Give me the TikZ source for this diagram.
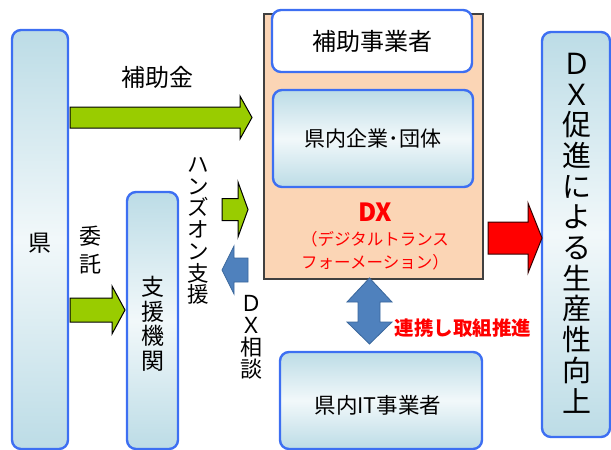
\documentclass[tikz,border=0pt]{standalone}
\usepackage{fontspec}
\setmainfont{Noto Sans CJK JP}
\usetikzlibrary{positioning}

\definecolor{boxblue}{HTML}{3D6FF2}
\definecolor{paleblue}{HTML}{BCDCE6}
\definecolor{peach}{HTML}{FBD5B5}
\definecolor{leaf}{HTML}{99CC00}
\definecolor{steel}{HTML}{4F81BD}
\definecolor{steeldark}{HTML}{3A679C}

\tikzset{
  panel/.style={draw=boxblue, line width=2.4pt, rounded corners=9pt, inner sep=0pt},
  glass/.style={panel, top color=paleblue, bottom color=paleblue, middle color=paleblue!20},
  vtext/.style={align=center, inner sep=0pt, font=\fontsize{22}{22}\selectfont},
  greenarrow/.style={fill=leaf, draw=black, line width=1pt},
  bluearrow/.style={fill=steel, draw=steeldark, line width=0.8pt},
  redarrow/.style={fill=red, draw=black!80!red, line width=1pt}
}

% block arrow: style, tail x, tip x, y, half shaft, half head, head length
\newcommand{\barrow}[7]{\draw[#1] (#2,{#4-#5}) -- ({#3-#7},{#4-#5}) -- ({#3-#7},{#4-#6}) -- (#3,#4) -- ({#3-#7},{#4+#6}) -- ({#3-#7},{#4+#5}) -- (#2,{#4+#5}) -- cycle;}

\begin{document}
\begin{tikzpicture}[x=1pt, y=-1pt]
\useasboundingbox (0,0) rectangle (611,450);
\node [glass, minimum width=56pt, minimum height=419pt] (ken) at (40,239.5) {};
\node [vtext, font=\fontsize{23}{23}\selectfont] (kentext) at (40,243) {県};
\node [glass, minimum width=51pt, minimum height=257pt] (shien) at (152.5,320.5) {};
\node [vtext, font=\fontsize{23}{24.5}\selectfont] (shientext) at (153,324) {支\\援\\機\\関};
\node [fill=peach, draw=black!75, line width=1.2pt, minimum width=219pt, minimum height=265pt, inner sep=0pt] (dxbox) at (373.5,146.5) {};
\node [panel, fill=white, minimum width=200pt, minimum height=62pt] (hojo) at (372,41) {};
\node [font=\fontsize{24}{24}\selectfont] (hojotext) at (hojo) {補助事業者};
\node [glass, minimum width=200pt, minimum height=97pt] (kigyo) at (373,138.5) {};
\node [font=\fontsize{21}{21}\selectfont] (kigyotext) at (kigyo) {県内企業･団体};
\node [text=red, font=\fontsize{25}{25}\selectfont\bfseries] (dxtext) at (375,212) {DX};
\node [text=red, font=\fontsize{16.5}{23}\selectfont, align=center, inner sep=0pt] (dxsub) at (375,251) {（デジタルトランス\\フォーメーション）};
\node [glass, minimum width=202pt, minimum height=97pt] (itjigyo) at (381,400.5) {};
\node [font=\fontsize{21.5}{21.5}\selectfont] (ittext) at (378,405) {県内IT事業者};
\node [glass, minimum width=68pt, minimum height=405pt] (kojo) at (576,234.5) {};
\node [vtext, font=\fontsize{29}{30.7}\selectfont] (kojotext) at (577,233) {Ｄ\\Ｘ\\促\\進\\に\\よ\\る\\生\\産\\性\\向\\上};
\node [font=\fontsize{24}{24}\selectfont] (hojokin) at (157,77) {補助金};
\node [vtext, font=\fontsize{22}{28}\selectfont] (itaku) at (90,250) {委\\託};
\node [vtext, font=\fontsize{21.5}{21.7}\selectfont] (handson) at (198,231) {ハ\\ン\\ズ\\オ\\ン\\支\\援};
\node [vtext, font=\fontsize{22}{22}\selectfont] (soudan) at (251,337) {Ｄ\\Ｘ\\相\\談};
\node [text=red, font=\fontsize{19.5}{19.5}\selectfont\bfseries] (renkei) at (463,328) {連携し取組推進};
\barrow{greenarrow}{70}{252}{117.5}{10.5}{21.5}{12}
\barrow{greenarrow}{70}{125}{310}{12}{24}{13}
\barrow{greenarrow}{222}{248}{209.5}{11}{27.5}{10}
\barrow{bluearrow}{248}{222}{270}{12}{24}{-12}
\barrow{redarrow}{488}{542}{238}{16}{35}{14}
\draw [bluearrow] (358,302) -- (347,302) -- (369.5,278) -- (392,302) -- (380,302) -- (380,322) -- (392,322) -- (369.5,344) -- (347,322) -- (358,322) -- cycle;
\end{tikzpicture}
\end{document}
